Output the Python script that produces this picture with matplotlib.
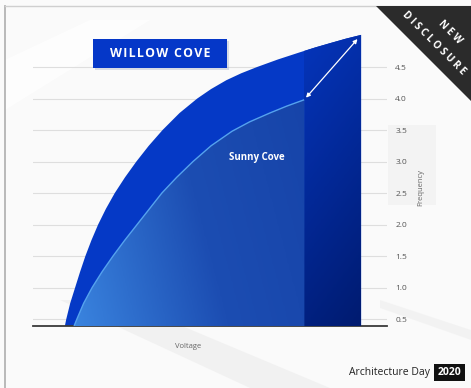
import numpy as np
import matplotlib
matplotlib.use('Agg')
import matplotlib.pyplot as plt
from matplotlib.patches import Rectangle, Polygon
from matplotlib.colors import LinearSegmentedColormap

plt.rcParams['font.family'] = ['Open Sans', 'DejaVu Sans']

# values (voltage in arbitrary units, frequency in GHz)
willow_v = [0.90, 0.94, 1.05, 1.19, 1.33, 1.48, 1.65, 1.84, 2.06, 2.31, 2.60, 2.92, 3.27, 3.66,
            4.14, 4.64, 5.03, 5.46, 5.88, 6.33, 6.92, 7.52, 7.97, 8.40, 8.84, 9.27]
willow_f = [0.39, 0.50, 0.75, 1.00, 1.25, 1.50, 1.75, 2.00, 2.25, 2.50, 2.75, 3.00, 3.25, 3.50,
            3.77, 4.00, 4.15, 4.29, 4.40, 4.50, 4.62, 4.73, 4.81, 4.88, 4.95, 5.01]
sunny_v = [1.16, 1.24, 1.43, 1.67, 1.95, 2.26, 2.59, 2.94, 3.29, 3.64, 4.06, 4.52, 5.03, 5.62,
           6.12, 6.69, 7.17, 7.66]
sunny_f = [0.39, 0.50, 0.75, 1.00, 1.25, 1.50, 1.75, 2.00, 2.25, 2.50, 2.75, 3.00, 3.25, 3.48,
           3.63, 3.77, 3.88, 3.98]
freq_ticks = [0.5, 1.0, 1.5, 2.0, 2.5, 3.0, 3.5, 4.0, 4.5]

YBASE = 0.39
YTOP = 5.1

fig = plt.figure(figsize=(4.71, 3.88), dpi=100)
fig.patch.set_facecolor('#fafafa')

# faint background streaks
bg = fig.add_axes([0, 0, 1, 1])
bg.set_xlim(0, 471)
bg.set_ylim(388, 0)
bg.axis('off')
bg.add_patch(Polygon([(60, 300), (120, 300), (330, 388), (250, 388)], color='#eeeeee', alpha=0.7, lw=0))
bg.add_patch(Polygon([(380, 300), (471, 330), (471, 340), (380, 308)], color='#ececec', alpha=0.5, lw=0))
bg.add_patch(Rectangle((388, 125), 48, 80, color='#f3f3f3', lw=0))
bg.add_patch(Polygon([(5, 60), (90, 20), (150, 20), (5, 110)], color='#ffffff', alpha=0.7, lw=0))
bg.plot([5, 5], [6, 388], color='#b4b4b4', lw=1.3)
bg.plot([5, 471], [6, 6], color='#cfcfcf', lw=1.0)

ax = fig.add_axes([33 / 471, 62 / 388, 354 / 471, 296.8 / 388])
ax.set_facecolor('none')
ax.set_xlim(0, 10)
ax.set_ylim(YBASE, YTOP)

# Willow Cove curve area
wpoly = ax.fill(list(willow_v) + [willow_v[-1], willow_v[0]],
                list(willow_f) + [YBASE, YBASE], color='#0539c6', lw=0, zorder=2)[0]

# darker region right of the Sunny Cove end
gy, gx = np.mgrid[0:1:100j, 0:1:40j]
dark = LinearSegmentedColormap.from_list('dark', ['#0535bc', '#001b70'])
im = ax.imshow(0.8 * gy + 0.2 * gx, cmap=dark, origin='upper', aspect='auto',
               extent=[sunny_v[-1], willow_v[-1], YBASE, YTOP], zorder=3)
im.set_clip_path(wpoly)

# Sunny Cove area with a gradient
spoly = ax.fill(list(sunny_v) + [sunny_v[-1], sunny_v[0]],
                list(sunny_f) + [YBASE, YBASE], color='#2a64c8', lw=0, zorder=3)[0]
gy2, gx2 = np.mgrid[0:1:100j, 0:1:160j]
light = LinearSegmentedColormap.from_list('light', ['#3a84df', '#1c4db2', '#1643a8'])
im2 = ax.imshow(0.75 * gx2 + 0.25 * gy2, cmap=light, origin='lower', aspect='auto',
                extent=[sunny_v[0], sunny_v[-1], YBASE, YTOP], zorder=4)
im2.set_clip_path(spoly)
ax.plot(sunny_v, sunny_f, color='#55a2ee', lw=1.0, zorder=5, solid_capstyle='butt')

ax.set_xlim(0, 10)
ax.set_ylim(YBASE, YTOP)

ax.annotate('', xy=(willow_v[-1], willow_f[-1]), xytext=(sunny_v[-1], sunny_f[-1]),
            arrowprops=dict(arrowstyle='<|-|>', color='white', lw=0.9,
                            mutation_scale=6, shrinkA=2, shrinkB=4), zorder=6)

ax.text(6.33, 3.07, 'Sunny Cove', color='white', fontsize=7, fontweight='bold',
        ha='center', va='center', zorder=6)

ax.yaxis.tick_right()
ax.set_yticks(freq_ticks)
ax.set_yticklabels(['%.1f' % t for t in freq_ticks])
ax.tick_params(axis='y', length=0, pad=6, labelsize=6, labelcolor='#555555')
ax.set_xticks([])
ax.grid(axis='y', color='#dedede', lw=0.8)
ax.set_axisbelow(True)
for s in ['top', 'left', 'right']:
    ax.spines[s].set_visible(False)
ax.spines['bottom'].set_color('#3a3a3a')
ax.spines['bottom'].set_linewidth(1.3)

ax.set_xlabel('Voltage', fontsize=5.5, color='#666666')
ax.xaxis.set_label_coords(0.438, -0.057)
ax.yaxis.set_label_position('right')
ax.set_ylabel('Frequency', fontsize=5.5, color='#666666', rotation=90)
ax.yaxis.set_label_coords(1.085, 0.465)

# title box
fig.patches.append(Rectangle((95 / 471, 318 / 388), 134 / 471, 29 / 388, transform=fig.transFigure,
                             color='#9aa4c0', alpha=0.35, lw=0, zorder=7))
fig.patches.append(Rectangle((93 / 471, 320 / 388), 134 / 471, 29 / 388, transform=fig.transFigure,
                             color='#0537c8', lw=0, zorder=8))
fig.text(160 / 471, 334.5 / 388, '\u200a'.join('WILLOW COVE'), color='white', fontsize=8.9,
         fontweight='bold', ha='center', va='center', zorder=9)

# corner banner
fig.patches.append(Polygon([(376 / 471, 382 / 388), (1, 382 / 388), (1, 287 / 388)],
                           closed=True, transform=fig.transFigure, color='#2b2b2b', lw=0, zorder=7))
fig.text(450 / 471, 356 / 388, 'N E W', color='white', fontsize=7.2, fontweight='bold',
         rotation=-45, ha='center', va='center', zorder=9)
fig.text(434 / 471, 344.5 / 388, 'D I S C L O S U R E', color='white', fontsize=7.2, fontweight='bold',
         rotation=-45, ha='center', va='center', zorder=9)

# footer
fig.text(430 / 471, 16 / 388, 'Architecture Day', color='#222222', fontsize=7.5,
         ha='right', va='center')
fig.patches.append(Rectangle((434 / 471, 7 / 388), 31 / 471, 17 / 388, transform=fig.transFigure,
                             color='#111111', lw=0, zorder=7))
fig.text(449.5 / 471, 15.5 / 388, '2020', color='white', fontsize=7.5, fontweight='bold',
         ha='center', va='center', zorder=9)

fig.savefig('out.png', dpi=100)
